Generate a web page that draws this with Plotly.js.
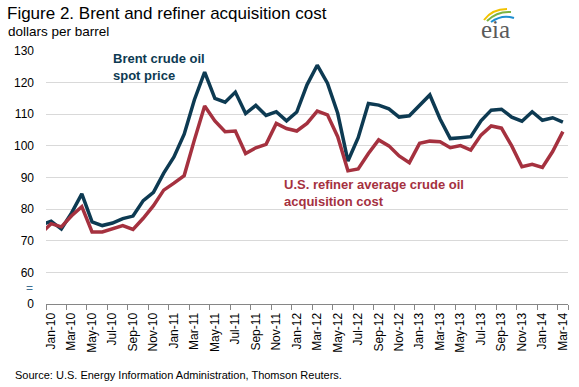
<!DOCTYPE html>
<html>
<head>
<meta charset="utf-8">
<script src="https://cdn.plot.ly/plotly-3.0.1.min.js"></script>
<style>html,body{margin:0;padding:0;background:#fff;}#chart{width:579px;height:387px;}</style>
</head>
<body>
<div id="chart"></div>
<script>
// Months (Dec-09 is only partly visible at the left edge)
const months = ["Dec-09",
  "Jan-10","Feb-10","Mar-10","Apr-10","May-10","Jun-10","Jul-10","Aug-10","Sep-10","Oct-10","Nov-10","Dec-10",
  "Jan-11","Feb-11","Mar-11","Apr-11","May-11","Jun-11","Jul-11","Aug-11","Sep-11","Oct-11","Nov-11","Dec-11",
  "Jan-12","Feb-12","Mar-12","Apr-12","May-12","Jun-12","Jul-12","Aug-12","Sep-12","Oct-12","Nov-12","Dec-12",
  "Jan-13","Feb-13","Mar-13","Apr-13","May-13","Jun-13","Jul-13","Aug-13","Sep-13","Oct-13","Nov-13","Dec-13",
  "Jan-14","Feb-14","Mar-14"];

const brent = [74.9,
  76.2, 73.7, 78.8, 84.8, 76.0, 74.8, 75.6, 77.0, 77.8, 82.7, 85.3, 91.4,
  96.5, 103.7, 114.6, 123.3, 115.0, 113.8, 117.0, 110.2, 112.8, 109.6, 110.8, 107.9,
  110.7, 119.3, 125.5, 119.8, 110.3, 95.2, 102.6, 113.4, 112.9, 111.7, 109.1, 109.5,
  113.0, 116.1, 108.5, 102.3, 102.6, 102.9, 107.9, 111.3, 111.6, 109.1, 107.8, 110.8,
  108.1, 108.9, 107.5];

const refiner = [72.3,
  75.4, 74.4, 77.9, 80.8, 72.8, 72.8, 73.9, 74.8, 73.6, 77.1, 81.1, 86.0,
  88.2, 90.6, 101.9, 112.6, 107.9, 104.5, 104.7, 97.6, 99.4, 100.5, 107.1, 105.5,
  104.7, 107.1, 111.0, 109.8, 102.9, 92.1, 92.7, 97.6, 101.9, 100.0, 96.8, 94.7,
  100.8, 101.5, 101.3, 99.4, 100.1, 98.7, 103.4, 106.3, 105.6, 100.0, 93.4, 94.2,
  93.2, 98.2, 104.5];

const tickMonths = months.filter((m, i) => i >= 1 && (i - 1) % 2 === 0);
const yTickVals = [50, 60, 70, 80, 90, 100, 110, 120, 130];
const yTickText = ["0", "60", "70", "80", "90", "100", "110", "120", "130"];

const titleText = "Figure 2. Brent and refiner acquisition cost";
const unitText = "dollars per barrel";
const sourceText = "Source: U.S. Energy Information Administration, Thomson Reuters.";
const brentLabel = "Brent crude oil<br>spot price";
const refinerLabel = "U.S. refiner average crude oil<br>acquisition cost";

// geometry helpers (pixel -> paper)
const L = 46, R = 11, T = 51, B = 83, WW = 579, HH = 387;
const PW = WW - L - R, PH = HH - T - B;
const px = p => (p - L) / PW;
const py = p => (T + PH - p) / PH;

const FONT = "Liberation Sans, Arial, sans-serif";
const BLUE = "#0d3a52", RED = "#a5313f";

const traces = [
  {x: months, y: brent, type: "scatter", mode: "lines", name: "Brent",
   line: {color: BLUE, width: 3.5}, hoverinfo: "x+y"},
  {x: months, y: refiner, type: "scatter", mode: "lines", name: "Refiner",
   line: {color: RED, width: 3.5}, hoverinfo: "x+y"}
];

function arc(x0, y0, cx, cy, x1, y1) {
  return "M" + px(x0) + "," + py(y0) + " Q" + px(cx) + "," + py(cy) + " " + px(x1) + "," + py(y1);
}

const layout = {
  width: WW, height: HH,
  margin: {l: L, r: R, t: T, b: B},
  paper_bgcolor: "#fff", plot_bgcolor: "#fff",
  showlegend: false,
  font: {family: FONT, size: 12, color: "#000"},
  title: {text: titleText, x: 7 / WW, xanchor: "left", xref: "container",
          y: 1 - 13 / HH, yanchor: "middle", yref: "container",
          font: {family: FONT, size: 17, color: "#000"}},
  xaxis: {type: "category", categoryorder: "array", categoryarray: months,
          range: [0.5, months.length - 0.5],
          tickmode: "array", tickvals: tickMonths, ticktext: tickMonths,
          tickson: "boundaries", ticks: "outside", ticklen: 5, tickcolor: "#868686",
          ticklabelstandoff: 3,
          tickangle: -90, tickfont: {family: FONT, size: 12, color: "#000"},
          showline: true, linecolor: "#868686", linewidth: 1,
          showgrid: false, zeroline: false, fixedrange: true},
  yaxis: {range: [50, 130], tickmode: "array", tickvals: yTickVals, ticktext: yTickText,
          showgrid: true, gridcolor: "#d9d9d9", gridwidth: 1,
          ticks: "", ticklabelstandoff: 11, showline: false, zeroline: false,
          tickfont: {family: FONT, size: 12, color: "#000"}, fixedrange: true},
  annotations: [
    {text: unitText, xref: "paper", yref: "paper", x: px(6), y: py(31),
     xanchor: "left", yanchor: "middle", showarrow: false,
     font: {family: FONT, size: 13.5, color: "#000"}},
    {text: sourceText, xref: "paper", yref: "paper", x: px(13), y: py(375),
     xanchor: "left", yanchor: "middle", showarrow: false,
     font: {family: FONT, size: 11, color: "#000"}},
    {text: brentLabel, xref: "paper", yref: "paper", x: px(111), y: py(66.5),
     xanchor: "left", yanchor: "middle", align: "left", showarrow: false,
     font: {family: FONT, size: 13, color: BLUE, weight: "bold"}},
    {text: refinerLabel, xref: "paper", yref: "paper", x: px(281.5), y: py(193),
     xanchor: "left", yanchor: "middle", align: "left", showarrow: false,
     font: {family: FONT, size: 13, color: RED, weight: "bold"}},
    {text: "=", xref: "paper", yref: "paper", x: px(35), y: py(288),
     xanchor: "right", yanchor: "middle", showarrow: false,
     font: {family: FONT, size: 12, color: "#3f6f93"}},
    {text: "eia", xref: "paper", yref: "paper", x: px(495), y: py(29),
     xanchor: "center", yanchor: "middle", showarrow: false,
     font: {family: "Liberation Serif, DejaVu Serif, serif", size: 25, color: "#5a5a5a"}}
  ],
  shapes: [
    {type: "path", xref: "paper", yref: "paper", path: arc(484, 20, 492, 9, 507, 9),
     line: {color: "#f2c200", width: 2}},
    {type: "path", xref: "paper", yref: "paper", path: arc(487, 21, 497, 11, 511, 12),
     line: {color: "#7cb342", width: 2}},
    {type: "path", xref: "paper", yref: "paper", path: arc(491, 22, 502, 14, 514, 18),
     line: {color: "#1f8fd0", width: 2}}
  ]
};

Plotly.newPlot("chart", traces, layout, {displayModeBar: false, staticPlot: true});
</script>
</body>
</html>
